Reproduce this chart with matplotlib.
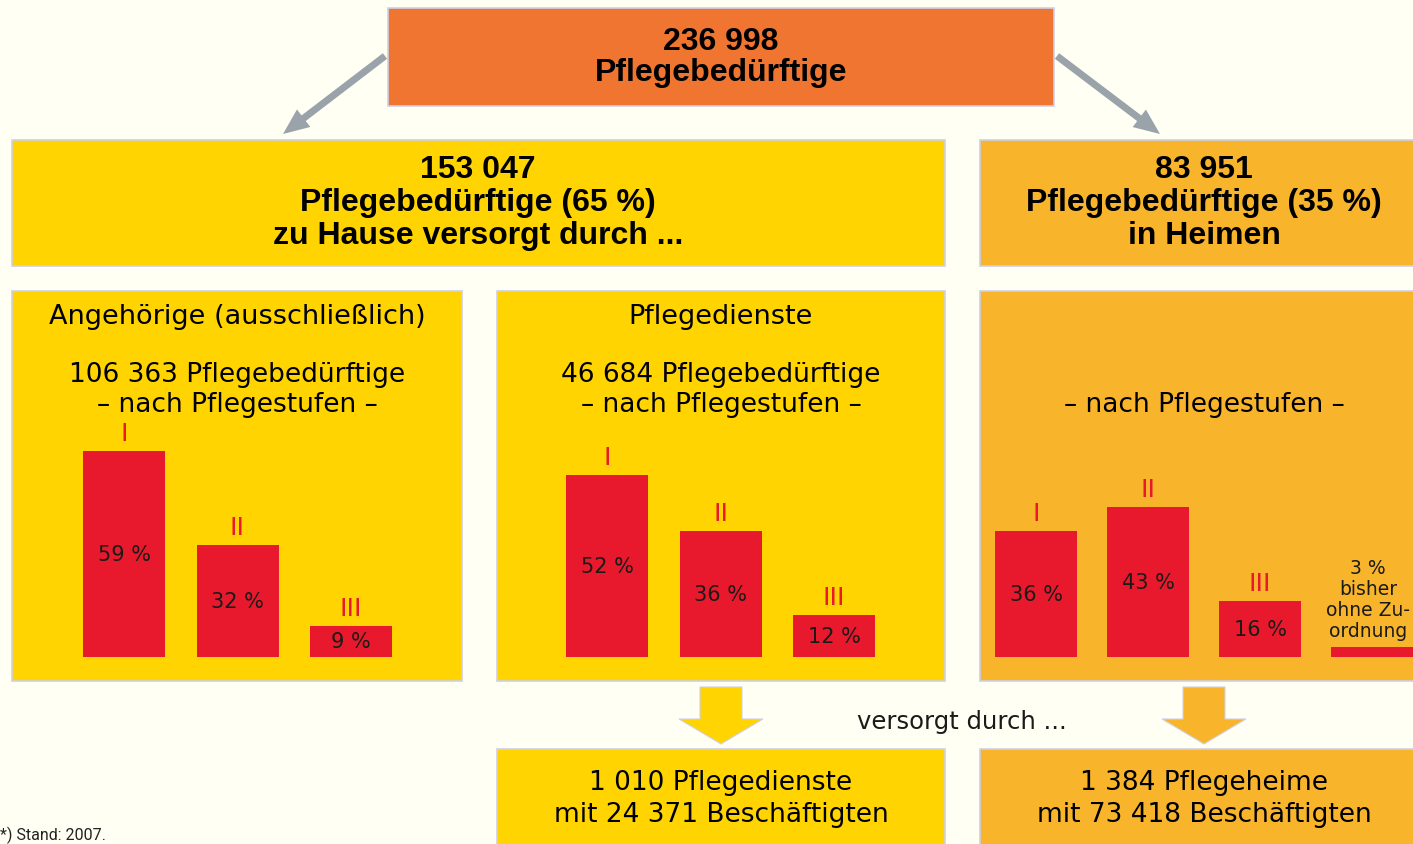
import matplotlib
matplotlib.use("Agg")
import matplotlib.pyplot as plt
from matplotlib.patches import Rectangle, FancyArrow

# -----------------------------
# Data
# -----------------------------
gesamt = 236998
zu_hause = 153047
in_heimen = 83951
anteil_zu_hause = 65
anteil_heime = 35
angehoerige_n = 106363
dienste_n = 46684
anzahl_dienste = 1010
dienste_beschaeftigte = 24371
anzahl_heime = 1384
heime_beschaeftigte = 73418

stufen = ["I", "II", "III"]
angehoerige_pct = [59, 32, 9]
dienste_pct = [52, 36, 12]
heime_pct = [36, 43, 16]
heime_ohne_pct = 3

# -----------------------------
# Style
# -----------------------------
W, H = 1413, 845
BG = "#fffff4"
ORANGE = "#ef7530"
YELLOW = "#ffd400"
AMBER = "#f8b52c"
RED = "#e8192c"
EDGE = "#cfd0e6"
ARROW_GRAY = "#9aa3aa"
BOLD = "Liberation Sans"
REG = "DejaVu Sans"

PX_PER_PCT = 3.5
BAR_BOTTOM = 658


def fmt(n):
    return f"{n:,}".replace(",", " ")


fig = plt.figure(figsize=(W / 100, H / 100), dpi=100, facecolor=BG)
ax = fig.add_axes([0, 0, 1, 1])
ax.set_xlim(0, W)
ax.set_ylim(H, 0)
ax.axis("off")


def box(x0, y0, x1, y1, color):
    ax.add_patch(Rectangle((x0, y0), x1 - x0, y1 - y0, facecolor=color,
                           edgecolor=EDGE, linewidth=1.2))


def lines(x, ys, texts, size, bold=True, color="black"):
    for y, t in zip(ys, texts):
        ax.text(x, y, t, ha="center", va="center", fontsize=size,
                fontweight="bold" if bold else "normal",
                family=BOLD if bold else REG, color=color)


# top box
box(388, 9, 1054, 107, ORANGE)
lines(721, [42, 73], [fmt(gesamt), "Pflegebedürftige"], 23)

# gray arrows
ax.add_patch(FancyArrow(385, 57, -102, 78, width=7, head_width=22,
                        head_length=26, length_includes_head=True,
                        facecolor=ARROW_GRAY, edgecolor="none"))
ax.add_patch(FancyArrow(1057, 57, 103, 78, width=7, head_width=22,
                        head_length=26, length_includes_head=True,
                        facecolor=ARROW_GRAY, edgecolor="none"))

# second row
box(12, 141, 945, 267, YELLOW)
lines(478, [170, 203, 236],
      [fmt(zu_hause), f"Pflegebedürftige ({anteil_zu_hause} %)",
       "zu Hause versorgt durch ..."], 23)
box(980, 141, 1420, 267, AMBER)
lines(1204, [170, 203, 236],
      [fmt(in_heimen), f"Pflegebedürftige ({anteil_heime} %)", "in Heimen"], 23)

# panels
box(12, 292, 462, 682, YELLOW)
box(497, 292, 945, 682, YELLOW)
box(980, 292, 1420, 682, AMBER)
lines(237, [317], ["Angehörige (ausschließlich)"], 19.5, bold=False)
lines(237, [375, 405], [f"{fmt(angehoerige_n)} Pflegebedürftige",
                        "– nach Pflegestufen –"], 19, bold=False)
lines(721, [317], ["Pflegedienste"], 19.5, bold=False)
lines(721, [375, 405], [f"{fmt(dienste_n)} Pflegebedürftige",
                        "– nach Pflegestufen –"], 19, bold=False)
lines(1204, [405], ["– nach Pflegestufen –"], 19, bold=False)


def bar_panel(first_center, spacing, values, labels, n_slots):
    # axes whose x units are bar slots and y units are percent
    left = first_center - spacing / 2
    width = spacing * n_slots
    height = 60 * PX_PER_PCT
    bax = fig.add_axes([left / W, 1 - BAR_BOTTOM / H, width / W, height / H])
    bax.set_xlim(-0.5, n_slots - 0.5)
    bax.set_ylim(0, 60)
    bax.axis("off")
    bax.patch.set_alpha(0)
    xs = list(range(len(values)))
    bax.bar(xs, values, width=82 / spacing, color=RED, linewidth=0)
    for x, v, lab in zip(xs, values, labels):
        bax.text(x, v / 2, f"{v} %", ha="center", va="center",
                 fontsize=15, family=REG, color="#1a1a1a")
        bax.annotate(lab, (x, v), xytext=(0, 4), textcoords="offset points",
                     ha="center", va="bottom", fontsize=18,
                     family="Liberation Sans Narrow", color=RED)
    return bax


bar_panel(124, 113.5, angehoerige_pct, stufen, 3)
bar_panel(607, 113.5, dienste_pct, stufen, 3)
bax3 = bar_panel(1036, 112, heime_pct, stufen, 4)
bax3.bar([3], [heime_ohne_pct], width=82 / 112, color=RED, linewidth=0,
         clip_on=False)
bax3.annotate(f"{heime_ohne_pct} %\nbisher\nohne Zu-\nordnung", (3, heime_ohne_pct),
              xytext=(-3, 5), textcoords="offset points", ha="center",
              va="bottom", fontsize=13.5, family=REG, color="#1a1a1a",
              linespacing=1.12)

# down arrows
ax.add_patch(FancyArrow(721, 688, 0, 57, width=42, head_width=84,
                        head_length=25, length_includes_head=True,
                        facecolor=YELLOW, edgecolor=EDGE, linewidth=0.8))
ax.add_patch(FancyArrow(1204, 688, 0, 57, width=42, head_width=84,
                        head_length=25, length_includes_head=True,
                        facecolor=AMBER, edgecolor=EDGE, linewidth=0.8))
ax.text(962, 722, "versorgt durch ...", ha="center", va="center",
        fontsize=17.5, family=REG, color="#1a1a1a")

# bottom boxes
box(497, 750, 945, 860, YELLOW)
box(980, 750, 1420, 860, AMBER)
lines(721, [783, 815], [f"{fmt(anzahl_dienste)} Pflegedienste",
                        f"mit {fmt(dienste_beschaeftigte)} Beschäftigten"],
      19, bold=False)
lines(1204, [783, 815], [f"{fmt(anzahl_heime)} Pflegeheime",
                         f"mit {fmt(heime_beschaeftigte)} Beschäftigten"],
      19, bold=False)

ax.text(0, 835, "*) Stand: 2007.", ha="left", va="center", fontsize=11.5,
        family="Roboto", color="#222222")

fig.savefig("out.png", dpi=100, facecolor=BG)
